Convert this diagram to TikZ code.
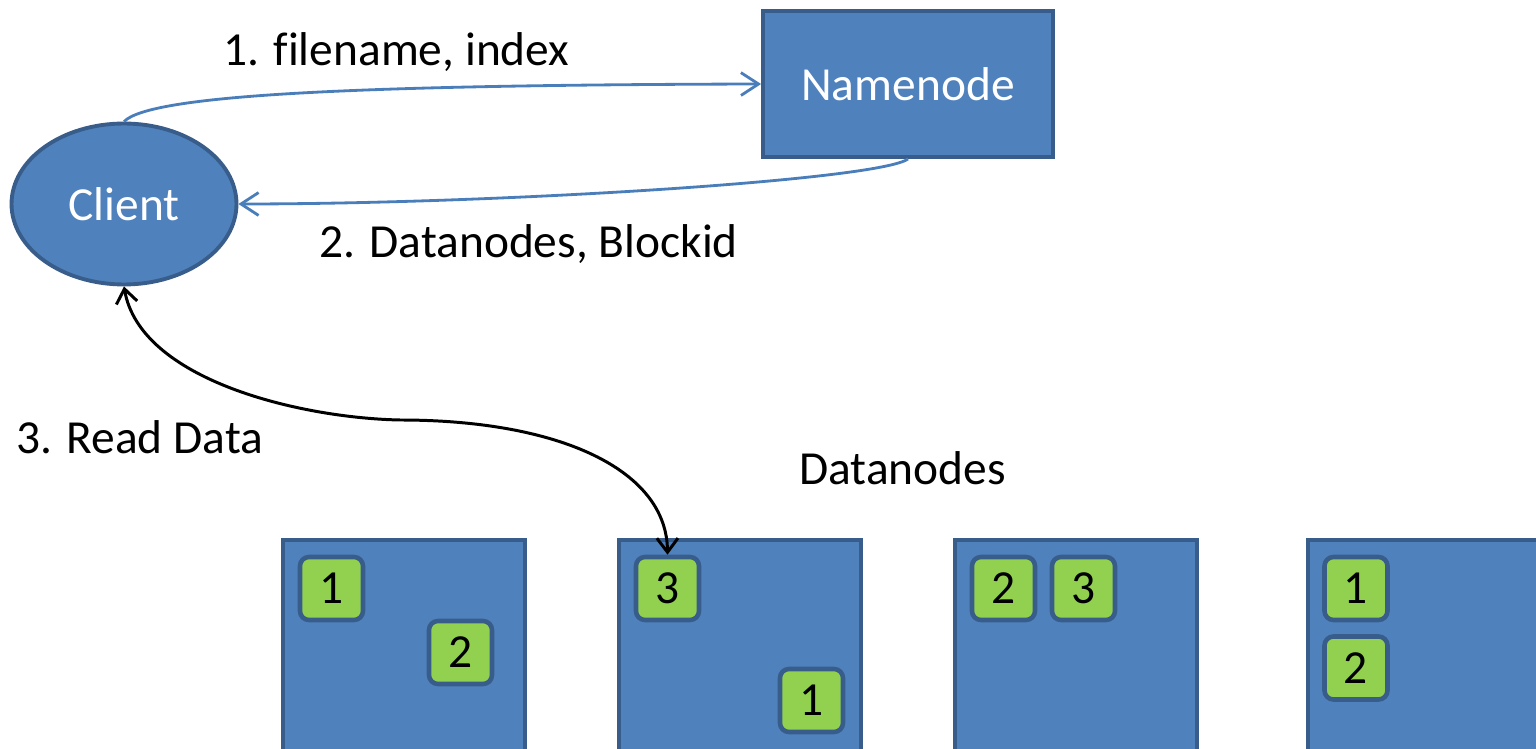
\documentclass[tikz,border=0pt]{standalone}
\usepackage{fontspec}
\setmainfont{Carlito}[Ligatures=NoCommon]
\usetikzlibrary{arrows.meta,shapes.geometric}
\definecolor{boxblue}{HTML}{4F81BD}
\definecolor{edgeblue}{HTML}{385D8A}
\definecolor{lineblue}{HTML}{4A7EBB}
\definecolor{blockgreen}{HTML}{92D050}
\tikzset{
  blueshape/.style={fill=boxblue, draw=edgeblue, line width=2.2pt, text=white, font=\fontsize{27}{31}\selectfont},
  dnbox/.style={rectangle, fill=boxblue, draw=edgeblue, line width=2.2pt, minimum width=4.84cm, minimum height=5.2cm},
  blk/.style={rectangle, rounded corners=0.18cm, fill=blockgreen, draw=edgeblue, line width=2.6pt, minimum width=1.26cm, minimum height=1.26cm, inner sep=0pt, font=\fontsize{27}{31}\selectfont},
  lbl/.style={font=\fontsize{27}{31}\selectfont, inner sep=0pt},
  bluearrow/.style={draw=lineblue, line width=1.6pt, -{Straight Barb[length=10pt,width=13pt,line width=1.6pt]}},
  blackarrow/.style={draw=black, line width=1.7pt, {Straight Barb[length=8pt,width=12pt,line width=1.7pt]}-{Straight Barb[length=8pt,width=12pt,line width=1.7pt]}}
}
\begin{document}
\begin{tikzpicture}[x=0.02cm, y=-0.02cm]
\clip (0,0) rectangle (1536,749);
\fill[white] (0,0) rectangle (1536,749);

\node[blueshape, ellipse, minimum width=4.5cm, minimum height=3.22cm, inner sep=0pt] (cl) at (124,204) {Client};
\node[blueshape, rectangle, minimum width=5.8cm, minimum height=2.92cm] (nn) at (908,84) {Namenode};

\node[dnbox] (d1) at (404,670) {};
\node[dnbox] (d2) at (740,670) {};
\node[dnbox] (d3) at (1076,670) {};
\node[dnbox] (d4) at (1429,670) {};

\node[blk] (b11) at (331.5,588.5) {1};
\node[blk] (b12) at (460.5,652.5) {2};
\node[blk] (b23) at (667.5,588.5) {3};
\node[blk] (b21) at (811.5,700.5) {1};
\node[blk] (b32) at (1003.5,588.5) {2};
\node[blk] (b33) at (1083.5,588.5) {3};
\node[blk] (b41) at (1356,588.5) {1};
\node[blk] (b42) at (1356,668) {2};

\node[lbl, anchor=west] (l1) at (223,52) {1. filename, index};
\node[lbl, anchor=west] (l2) at (319,244) {2. Datanodes, Blockid};
\node[lbl, anchor=west] (l3) at (16,437) {3. Read Data};
\node[lbl, anchor=west] (l4) at (799,468) {Datanodes};

\draw[bluearrow] (cl.north) .. controls (150,95) and (350,85) .. (nn.west);
\draw[bluearrow] (nn.south) .. controls (880,180) and (500,204) .. (cl.east);
\draw[blackarrow] (cl.south) .. controls (140,380) and (300,418) .. (400,420) .. controls (560,420) and (667,470) .. (b23.north);
\end{tikzpicture}
\end{document}
